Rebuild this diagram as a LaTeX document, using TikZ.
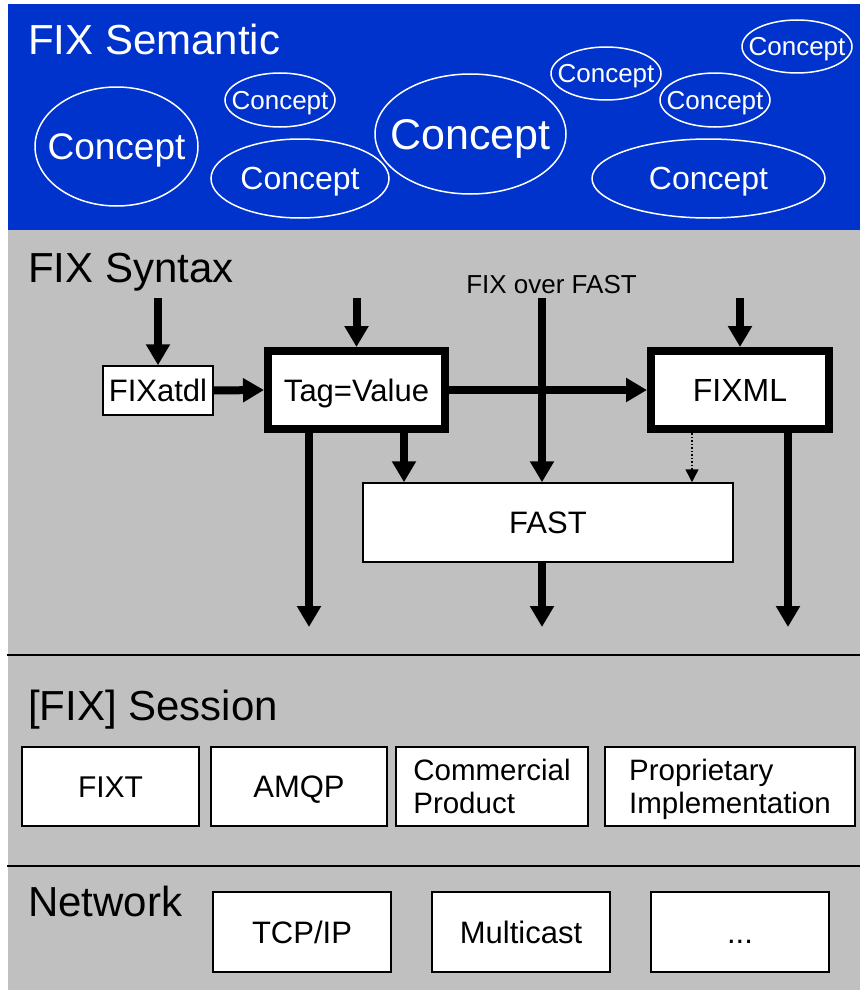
\documentclass[tikz,border=0pt]{standalone}
\usepackage{fontspec}
\setmainfont{Liberation Sans}
\usetikzlibrary{arrows.meta,shapes.geometric}
\definecolor{fixblue}{RGB}{0,51,204}
\definecolor{layergray}{RGB}{192,192,192}

\begin{document}
\begin{tikzpicture}[x=1pt,y=-1pt,>={Triangle[length=21pt,width=23pt]},
    concept/.style={text=white, inner sep=0pt, text depth=0pt},
    outline/.style={draw=white, line width=1.5pt},
    thinbox/.style={rectangle, draw, fill=white, line width=1.5pt, inner sep=0pt, text height=22.2pt, text depth=0pt, font=\fontsize{31}{37}\selectfont},
    thickbox/.style={thinbox, line width=8pt},
    twoline/.style={rectangle, draw, fill=white, line width=1.5pt, inner sep=0pt, text depth=0pt, align=left, font=\fontsize{29.5}{33}\selectfont},
    flow/.style={->, line width=8pt},
    layer/.style={anchor=base west, inner sep=0pt, font=\fontsize{42}{50}\selectfont},]
    \useasboundingbox (0,0) rectangle (860,990);

    % layers
    \fill[fixblue] (8,4) rectangle (860,230);
    \fill[layergray] (8,230) rectangle (860,990);
    \draw[line width=1.5pt] (7,655) -- (860,655);
    \draw[line width=1.5pt] (7,866) -- (860,866);

    \node [layer, text=white](semantic) at (28,55){FIX Semantic};
    \node [layer](syntax) at (28,282){FIX Syntax};
    \node [layer](session) at (28,720){[FIX] Session};
    \node [layer](network) at (28,916){Network};

    % concepts
    \node [concept, text height=26.5pt, font=\fontsize{37}{44}\selectfont](c1) at (116.5,146.5){Concept};
    \node [concept, text height=18.6pt, font=\fontsize{26}{31}\selectfont](c2) at (280,100){Concept};
    \node [concept, text height=22.9pt, font=\fontsize{32}{38}\selectfont](c3) at (300,178.5){Concept};
    \node [concept, text height=30.8pt, font=\fontsize{43}{51}\selectfont](c4) at (470.5,134){Concept};
    \node [concept, text height=18.6pt, font=\fontsize{26}{31}\selectfont](c5) at (606,73.5){Concept};
    \node [concept, text height=18.6pt, font=\fontsize{26}{31}\selectfont](c6) at (715,100){Concept};
    \node [concept, text height=18.6pt, font=\fontsize{26}{31}\selectfont](c7) at (797,46.5){Concept};
    \node [concept, text height=22.9pt, font=\fontsize{32}{38}\selectfont](c8) at (708.5,178.5){Concept};
    \draw[outline] (c1.center) ellipse [x radius=81.5, y radius=59.5];
    \draw[outline] (c2.center) ellipse [x radius=55, y radius=27];
    \draw[outline] (c3.center) ellipse [x radius=89, y radius=39.5];
    \draw[outline] (c4.center) ellipse [x radius=95.5, y radius=60];
    \draw[outline] (c5.center) ellipse [x radius=55, y radius=26.5];
    \draw[outline] (c6.center) ellipse [x radius=55, y radius=27];
    \draw[outline] (c7.center) ellipse [x radius=55, y radius=26.5];
    \draw[outline] (c8.center) ellipse [x radius=116.5, y radius=39.5];

    % syntax
    \node [thinbox, minimum width=110, minimum height=49](fixatdl) at (158,390.5){FIXatdl};
    \node [thickbox, minimum width=177, minimum height=78](tagval) at (356.5,390){Tag=Value};
    \node [thickbox, minimum width=178, minimum height=78, font=\fontsize{32}{38}\selectfont](fixml) at (740,390){FIXML};
    \node [thinbox, minimum width=370, minimum height=79](fast) at (548,522.5){FAST};
    \node [inner sep=0pt, font=\fontsize{26}{31}\selectfont](fof) at (551.5,285){FIX over FAST};

    \coordinate (in1) at (158,298);
    \coordinate (in2) at (356.5,298);
    \coordinate (in3) at (542,298);
    \coordinate (in4) at (740,298);
    \coordinate (out1) at (309,627);
    \coordinate (out2) at (542,627);
    \coordinate (out3) at (788,627);

    \draw[flow] (in1) -- (fixatdl.north);
    \draw[flow] (in2) -- (tagval.north);
    \draw[flow] (in4) -- (fixml.north);
    \draw[flow] (fixatdl.east) -- (tagval.west);
    \draw[flow] (tagval.east) -- (fixml.west);
    \draw[flow] (in3) -- (in3 |- fast.north);
    \draw[flow] ([xshift=47.5pt]tagval.south) -- ([xshift=47.5pt]tagval.south |- fast.north);
    \draw[->, >={Triangle[length=13pt,width=13pt]}, line width=1.5pt, dotted] ([xshift=-48pt]fixml.south) -- ([xshift=-48pt]fixml.south |- fast.north);
    \draw[flow] (tagval.south -| out1) -- (out1);
    \draw[flow] (fast.south -| out2) -- (out2);
    \draw[flow] (fixml.south -| out3) -- (out3);

    % session
    \node [thinbox, minimum width=177, minimum height=79, font=\fontsize{30}{36}\selectfont](fixt) at (110.5,786.5){FIXT};
    \node [thinbox, minimum width=176, minimum height=79](amqp) at (299,786.5){AMQP};
    \node [twoline, minimum width=192, minimum height=79](commercial) at (492,786.5){Commercial\\Product};
    \node [twoline, minimum width=250, minimum height=79](proprietary) at (730,786.5){Proprietary\\Implementation};

    % network
    \node [thinbox, minimum width=178, minimum height=80](tcpip) at (302,932){TCP/IP};
    \node [thinbox, minimum width=178, minimum height=80](multicast) at (521,932){Multicast};
    \node [thinbox, minimum width=178, minimum height=80](others) at (740,932){...};
\end{tikzpicture}
\end{document}
